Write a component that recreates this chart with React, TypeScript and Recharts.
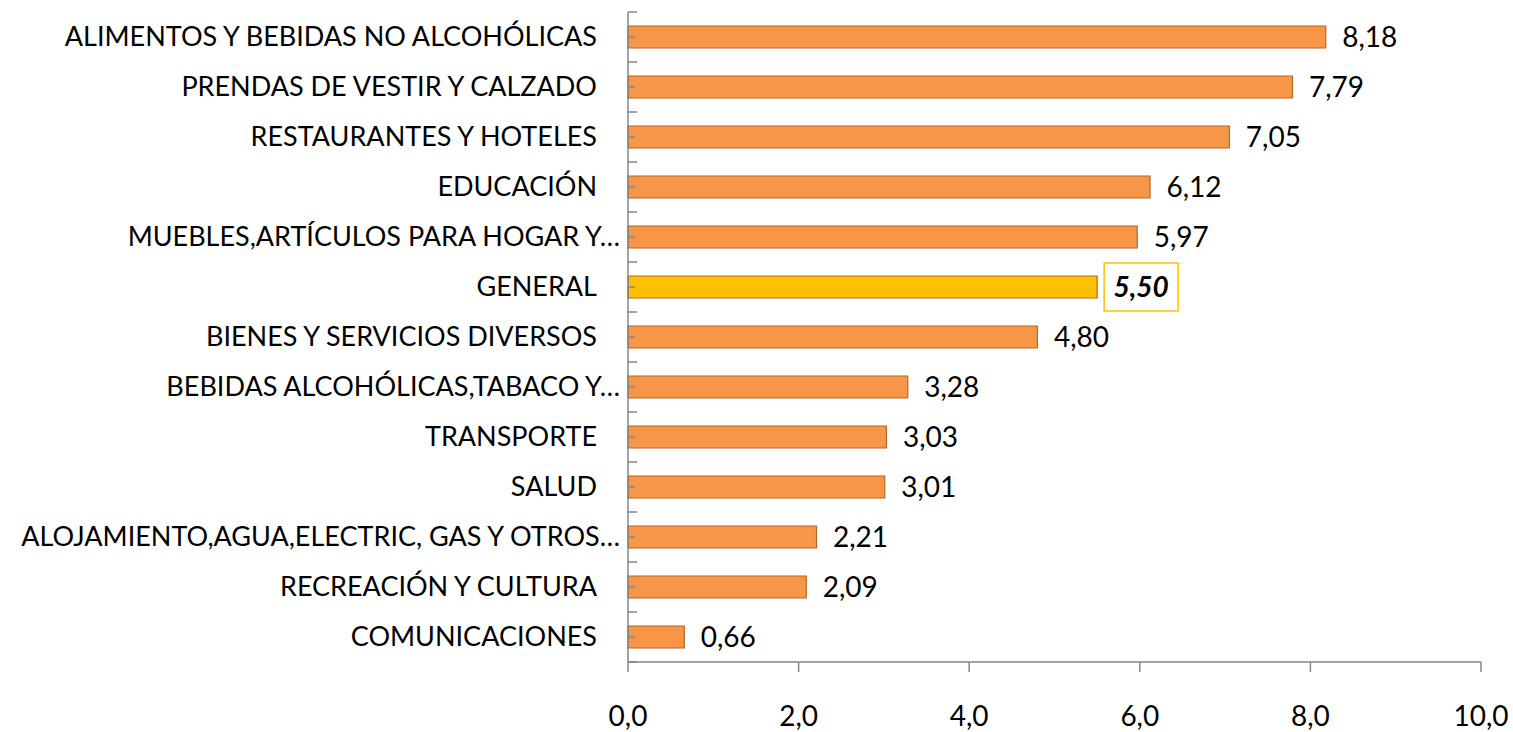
import { BarChart, Bar, XAxis, YAxis, Cell, LabelList } from 'recharts'

const categories = [
  'ALIMENTOS Y BEBIDAS NO ALCOHÓLICAS',
  'PRENDAS DE VESTIR Y CALZADO',
  'RESTAURANTES Y HOTELES',
  'EDUCACIÓN',
  'MUEBLES,ARTÍCULOS PARA HOGAR Y…',
  'GENERAL',
  'BIENES Y SERVICIOS DIVERSOS',
  'BEBIDAS ALCOHÓLICAS,TABACO Y…',
  'TRANSPORTE',
  'SALUD',
  'ALOJAMIENTO,AGUA,ELECTRIC, GAS Y OTROS…',
  'RECREACIÓN Y CULTURA',
  'COMUNICACIONES',
]

const values = [8.18, 7.79, 7.05, 6.12, 5.97, 5.5, 4.8, 3.28, 3.03, 3.01, 2.21, 2.09, 0.66]

const xTicks = [0, 2, 4, 6, 8, 10]

const highlight = 'GENERAL'

const FONT = 'Lato, "DejaVu Sans", sans-serif'
const AXIS = '#868686'

const fmt = (v: number, digits: number) => v.toFixed(digits).replace('.', ',')

// category label + inward tick marks at band edges
function CategoryTick(props: any) {
  const { x, y, payload, index, visibleTicksCount } = props
  const label: string = payload.value
  const band = 50
  const ax = x + 8
  const truncated = label.endsWith('…')
  return (
    <g>
      <line x1={ax} x2={ax + 9} y1={y - band / 2} y2={y - band / 2} stroke={AXIS} strokeWidth={1.5} />
      <line x1={ax} x2={ax + 7} y1={y} y2={y} stroke={AXIS} strokeWidth={1.5} />
      {index === visibleTicksCount - 1 && (
        <line x1={ax} x2={ax + 9} y1={y + band / 2} y2={y + band / 2} stroke={AXIS} strokeWidth={1.5} />
      )}
      <text
        x={truncated ? ax - 8 : ax - 31}
        y={y}
        dy="0.35em"
        textAnchor="end"
        fontFamily={FONT}
        fontSize={27}
        fill="#000"
      >
        {label}
      </text>
    </g>
  )
}

function ValueTick(props: any) {
  const { x, y, payload } = props
  return (
    <text x={x} y={y + 52} textAnchor="middle" fontFamily={FONT} fontSize={28} fill="#000">
      {fmt(payload.value, 1)}
    </text>
  )
}

function ValueLabel(props: any) {
  const { x, y, width, height, value, index } = props
  const isHi = categories[index] === highlight
  const bx = x + width + 7
  const cy = y + height / 2
  return (
    <g>
      <rect
        x={bx}
        y={cy - 24}
        width={74}
        height={48}
        fill="#fff"
        stroke={isHi ? '#FFC000' : 'none'}
        strokeWidth={1.5}
      />
      <text
        x={bx + 37}
        y={cy}
        dy="0.35em"
        textAnchor="middle"
        fontFamily={FONT}
        fontSize={28}
        fontWeight={isHi ? 700 : 400}
        fontStyle={isHi ? 'italic' : 'normal'}
        fill="#000"
      >
        {fmt(value, 2)}
      </text>
    </g>
  )
}

export default function App() {
  const data = categories.map((name, i) => ({ name, value: values[i] }))

  return (
    <div style={{ position: 'absolute', left: 0, top: 0, background: '#fff' }}>
      <BarChart
        width={1513}
        height={732}
        data={data}
        layout="vertical"
        margin={{ top: 12, right: 32, bottom: 0, left: 0 }}
        barCategoryGap={14}
      >
        <XAxis
          type="number"
          domain={[0, 10]}
          ticks={xTicks}
          height={70}
          stroke={AXIS}
          strokeWidth={1.5}
          tickSize={10}
          tick={<ValueTick />}
        />
        <YAxis
          type="category"
          dataKey="name"
          width={628}
          stroke={AXIS}
          strokeWidth={1.5}
          tickLine={false}
          interval={0}
          tick={<CategoryTick />}
        />
        <Bar dataKey="value" isAnimationActive={false} stroke="#B8652A" strokeWidth={1.2}>
          {data.map((d) => (
            <Cell key={d.name} fill={d.name === highlight ? '#FFC000' : '#F79646'} />
          ))}
          <LabelList dataKey="value" content={<ValueLabel />} />
        </Bar>
      </BarChart>
    </div>
  )
}
